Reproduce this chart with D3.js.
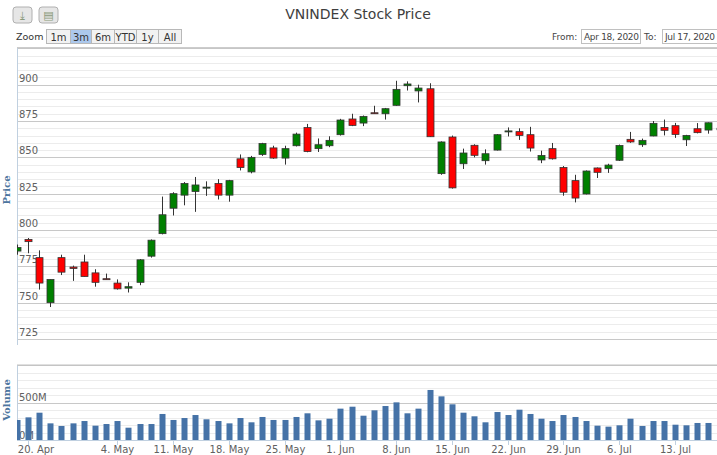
<!DOCTYPE html>
<html><head><meta charset="utf-8">
<script src="https://cdn.jsdelivr.net/npm/d3@7"></script>
<style>body{margin:0;background:#fff;font-family:"DejaVu Sans",Verdana,sans-serif}</style>
</head><body>
<svg id="c" width="717" height="455"></svg>
<script>
const dates=["Apr17","Apr20","Apr21","Apr22","Apr23","Apr24","Apr27","Apr28","Apr29","May4","May5","May6","May7","May8","May11","May12","May13","May14","May15","May18","May19","May20","May21","May22","May25","May26","May27","May28","May29","Jun1","Jun2","Jun3","Jun4","Jun5","Jun8","Jun9","Jun10","Jun11","Jun12","Jun15","Jun16","Jun17","Jun18","Jun19","Jun22","Jun23","Jun24","Jun25","Jun26","Jun29","Jun30","Jul1","Jul2","Jul3","Jul6","Jul7","Jul8","Jul9","Jul10","Jul13","Jul14","Jul15","Jul16","Jul17"];
const open =[785.5,793.5,781,750,781,774.5,778,770.5,766.5,763.5,760,764,782,797.5,815,824,826.5,829,832,824,849,840,852,856.5,849.5,858,870.5,856,858,865.6,876.4,873.6,880.7,880,885.8,899.3,895.7,897.2,838.8,864,845.6,858.3,847.7,855,868,867.7,865.6,848.2,856,843,834,824.8,842.7,842.2,848,862.4,858.7,864.7,870.6,871.8,862.1,869.7,868.8,870];
const high =[790,794.5,786,766,783,775.5,783,773,770,766,764,780,793.5,823,826,833,836.5,833.5,835,834.5,852,851,860,858,858,867,873,863,864.5,876.5,880,878.8,885.5,884,902.7,902.3,900,901,861,865,856,859,855.5,866,870.6,870,871,854.6,859.9,844,838,841,843,845.6,858.8,867.5,862.9,875,876,873.7,865.5,873.6,874,871];
const low  =[783,784,759,747,769,765,768,761,766,759,757,762,781,797,810,817,812.5,823.5,821,819.5,841,839,851,849,845,857.5,853.5,853.7,857,865,871.5,871.5,880,876,885.5,896,887.8,864,838,828.5,842,850,845,854.7,864.4,862,854,846,848.5,823.6,819,824.5,835.8,839.3,847.5,860,857.2,864.5,865.1,863.4,857.8,866.5,866.3,868];
const close=[788,792,763.5,766,771,773.5,768,764,766,759.5,761,779.5,793,810.5,825,832,831,829.5,824,834,843,850,859.5,849.5,856,866,854,858.7,861.7,875.7,872,878.2,880.3,883.5,896.8,900.5,897.7,864.2,860.6,829,853,851.4,852.5,865.6,868.2,865.1,856.4,851.3,849,826,822,840.6,839.7,844.7,858.2,860.6,861.7,873.4,868.6,865.8,865.1,867,873.8,869];
const volumeM=[267,302,364,222,187,222,253,191,213,253,164,213,213,347,267,293,333,276,253,222,293,236,307,267,267,307,356,262,284,418,444,324,396,453,502,356,418,667,582,476,364,316,236,373,333,404,347,284,253,333,307,253,191,178,196,284,187,253,253,204,196,227,227,227];
const tickLabels=[["Apr20","20. Apr"],["May4","4. May"],["May11","11. May"],["May18","18. May"],["May25","25. May"],["Jun1","1. Jun"],["Jun8","8. Jun"],["Jun15","15. Jun"],["Jun22","22. Jun"],["Jun29","29. Jun"],["Jul6","6. Jul"],["Jul13","13. Jul"]];
const priceTicks=[725,750,775,800,825,850,875,900];
const zoomButtons=["1m","3m","6m","YTD","1y","All"];

const svg=d3.select("#c");
const L=17,R=717,pT=47.7,pB=345,vT=365,vB=440;
const x=d3.scaleLinear().domain([1,59]).range([28,675]);
const y=d3.scaleLinear().domain([725,900]).range([339,84.7]);
const yv=d3.scaleLinear().domain([0,1000]).range([vB,vT]);
const idx=d=>dates.indexOf(d);

svg.append("defs").append("clipPath").attr("id","pc").append("rect").attr("x",L).attr("y",0).attr("width",R-L).attr("height",455);

const g=svg.append("g");
d3.range(725,926,5).forEach(v=>{const yy=Math.round(y(v))+0.5; if(yy<pT||yy>pB)return;
  g.append("line").attr("x1",L).attr("x2",R).attr("y1",yy).attr("y2",yy).attr("stroke",v%25===0?"#c8c8c8":"#ececec").attr("stroke-width",v%25===0?1.2:1);});
d3.range(0,1001,100).forEach(v=>{const yy=Math.round(yv(v))+0.5;
  g.append("line").attr("x1",L).attr("x2",R).attr("y1",yy).attr("y2",yy).attr("stroke",v%500===0?"#c8c8c8":"#ececec");});
g.append("line").attr("x1",L+0.5).attr("x2",L+0.5).attr("y1",pT).attr("y2",pB).attr("stroke","#c0d0e0");
g.append("line").attr("x1",L).attr("x2",R).attr("y1",pT).attr("y2",pT).attr("stroke","#c0c0c0");
g.append("line").attr("x1",L+0.5).attr("x2",L+0.5).attr("y1",vT).attr("y2",vB).attr("stroke","#c0d0e0");
g.append("line").attr("x1",L).attr("x2",R).attr("y1",vT).attr("y2",vT).attr("stroke","#c0c0c0");
g.append("line").attr("x1",L).attr("x2",R).attr("y1",vB+0.5).attr("y2",vB+0.5).attr("stroke","#c0d0e0");

priceTicks.forEach(v=>svg.append("text").attr("x",19).attr("y",y(v)-3).attr("font-size",10).attr("fill","#606060").text(v));
svg.append("text").attr("x",19).attr("y",yv(500)-2).attr("font-size",10).attr("fill","#606060").text("500M");
svg.append("text").attr("x",19).attr("y",yv(0)-1).attr("font-size",10).attr("fill","#606060").text("0M");
svg.append("text").attr("transform","translate(10,190) rotate(-90)").attr("text-anchor","middle").attr("font-size",10).attr("font-weight","bold").attr("fill","#4d759e").attr("font-family","DejaVu Serif").text("Price");
svg.append("text").attr("transform","translate(10,400) rotate(-90)").attr("text-anchor","middle").attr("font-size",10).attr("font-weight","bold").attr("fill","#4d759e").attr("font-family","DejaVu Serif").text("Volume");

const cg=svg.append("g").attr("clip-path","url(#pc)");
dates.forEach((d,i)=>{const cx=Math.round(x(i))+0.5;
  cg.append("line").attr("x1",cx).attr("x2",cx).attr("y1",y(high[i])).attr("y2",y(low[i])).attr("stroke","#333").attr("stroke-width",1);
  const up=close[i]>=open[i];
  const t=y(Math.max(open[i],close[i])),b=y(Math.min(open[i],close[i]));
  cg.append("rect").attr("x",cx-3.5).attr("y",t).attr("width",7).attr("height",Math.max(1,b-t)).attr("fill",up?"#008000":"#ff0000").attr("stroke","#333").attr("stroke-width",0.8);
  cg.append("rect").attr("x",cx-3).attr("y",yv(volumeM[i])).attr("width",6).attr("height",vB-yv(volumeM[i])).attr("fill","#4572a7");
});

tickLabels.forEach(([d,l])=>{const cx=Math.round(x(idx(d)))+0.5;
  svg.append("line").attr("x1",cx).attr("x2",cx).attr("y1",vB).attr("y2",vB+5).attr("stroke","#c0d0e0");
  svg.append("text").attr("x",d==="Apr20"?Math.max(cx,36):cx).attr("y",453).attr("text-anchor","middle").attr("font-size",10).attr("fill","#606060").text(l);});

svg.append("text").attr("x",358).attr("y",19).attr("text-anchor","middle").attr("font-size",14).attr("fill","#3e3e3e").text("VNINDEX Stock Price");
[[13,"⤓"],[39,"▤"]].forEach(([bx,s])=>{svg.append("rect").attr("x",bx).attr("y",7).attr("width",19).attr("height",16).attr("rx",3).attr("fill","#e6e6e6").attr("stroke","#b0b0b0");
  svg.append("text").attr("x",bx+9.5).attr("y",19).attr("text-anchor","middle").attr("font-size",11).attr("fill","#8a9a7a").text(s);});
svg.append("text").attr("x",16).attr("y",40).attr("font-size",9.5).attr("fill","#333").text("Zoom");
const bw=[24,21,23,22,22,23];let bx=46;
zoomButtons.forEach((b,i)=>{svg.append("rect").attr("x",bx+0.5).attr("y",29.5).attr("width",bw[i]).attr("height",14).attr("fill",i===1?"#acc8ec":"#f2f2f2").attr("stroke","#b8b8b8");
  svg.append("text").attr("x",bx+bw[i]/2+0.5).attr("y",40.5).attr("text-anchor","middle").attr("font-size",10).attr("fill","#333").text(b);bx+=bw[i];});
svg.append("text").attr("x",552).attr("y",40).attr("font-size",9).attr("fill","#444").text("From:");
svg.append("rect").attr("x",581.5).attr("y",29.5).attr("width",59).attr("height",14).attr("fill","#fff").attr("stroke","#c0c0c0");
svg.append("text").attr("x",584).attr("y",40).attr("font-size",9).attr("fill","#444").attr("textLength",55).text("Apr 18, 2020");
svg.append("text").attr("x",644).attr("y",40).attr("font-size",9).attr("fill","#444").text("To:");
svg.append("rect").attr("x",662.5).attr("y",29.5).attr("width",59).attr("height",14).attr("fill","#fff").attr("stroke","#c0c0c0");
svg.append("text").attr("x",665).attr("y",40).attr("font-size",9).attr("fill","#444").attr("textLength",50).text("Jul 17, 2020");
</script></body></html>
